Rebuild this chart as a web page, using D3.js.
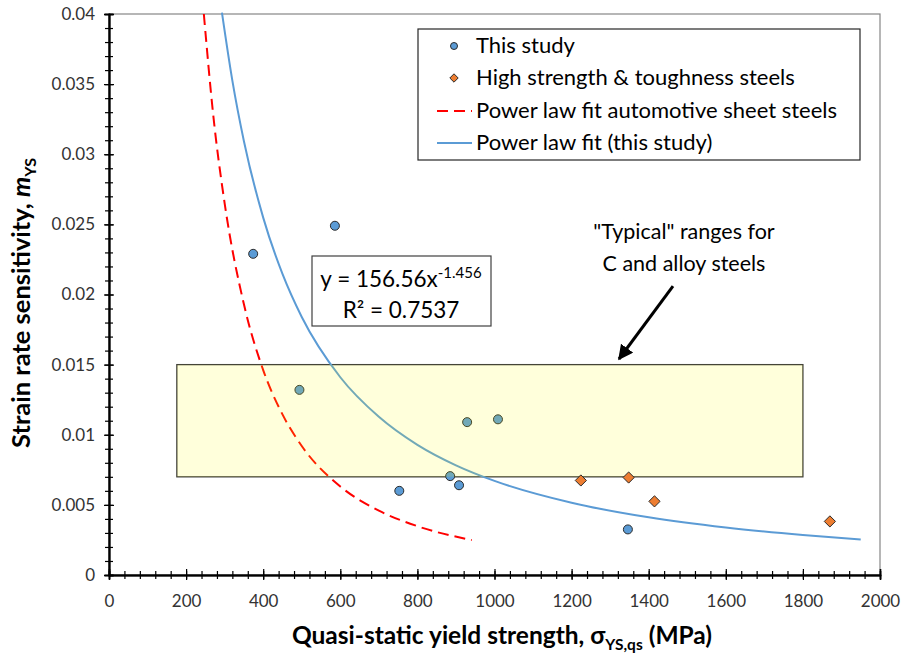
<!DOCTYPE html>
<html>
<head>
<meta charset="utf-8">
<script src="https://cdn.jsdelivr.net/npm/d3@7"></script>
<style>
  body { margin: 0; background: #fff; }
  text { font-family: Lato, "Open Sans", sans-serif; }
</style>
</head>
<body>
<div class="container"></div>
<script>
// this study (blue circles)
const studyX = [374, 586, 494, 929, 1009, 885, 908, 753, 1346];
const studyY = [0.0229, 0.0249, 0.0132, 0.0109, 0.0111, 0.00705, 0.0064, 0.0060, 0.00325];
// high strength & toughness steels (orange diamonds)
const hstX = [1224, 1348, 1415, 1870];
const hstY = [0.00674, 0.00695, 0.00525, 0.00382];
// power law fit (this study)
const fitX = [293, 320, 350, 400, 450, 500, 600, 700, 800, 900, 1000, 1200, 1400, 1600, 1800, 1950];
const fitY = [0.0401, 0.03525, 0.03093, 0.02548, 0.02147, 0.0184, 0.0141, 0.01128, 0.00928, 0.00782, 0.00671, 0.00515, 0.00411, 0.00338, 0.00285, 0.00253];
// power law fit automotive sheet steels
const autoX = [246, 270, 300, 350, 400, 450, 500, 600, 700, 800, 941];
const autoY = [0.04, 0.0329, 0.0265, 0.0193, 0.01461, 0.01145, 0.0092, 0.00631, 0.00459, 0.00348, 0.00249];
// "typical" range box
const rangeX = [176, 1800];
const rangeY = [0.007, 0.015];

const xTicks = d3.range(0, 2001, 200);
const yTicks = d3.range(0, 0.0401, 0.005);
const legendLabels = ["This study", "High strength & toughness steels", "Power law fit automotive sheet steels", "Power law fit (this study)"];

const w = 903, h = 656;
const pLeft = 109, pRight = 880, pTop = 14, pBottom = 575;

const x = d3.scaleLinear().domain([0, 2000]).range([pLeft, pRight]);
const y = d3.scaleLinear().domain([0, 0.04]).range([pBottom, pTop]);

const svg = d3.select(".container").append("svg")
  .attr("width", w).attr("height", h);

// plot area border
svg.append("rect")
  .attr("x", pLeft).attr("y", pTop)
  .attr("width", pRight - pLeft).attr("height", pBottom - pTop)
  .attr("fill", "none").attr("stroke", "#868686").attr("stroke-width", 1.2);

// range box outline (under the marks)
svg.append("rect")
  .attr("x", x(rangeX[0])).attr("y", y(rangeY[1]))
  .attr("width", x(rangeX[1]) - x(rangeX[0]))
  .attr("height", y(rangeY[0]) - y(rangeY[1]))
  .attr("fill", "none").attr("stroke", "#3a3a3a").attr("stroke-width", 1.3);

// axes
const fmtY = d => d === 0 ? "0" : String(+d.toFixed(3));
const minorX = d3.range(0, 2001, 40);
const minorY = d3.range(0, 0.04001, 0.001);

const gx = svg.append("g").attr("transform", "translate(0," + pBottom + ")");
gx.append("g").call(d3.axisBottom(x).tickValues(minorX).tickSize(4).tickFormat(""));
gx.append("g").call(d3.axisBottom(x).tickValues(minorX).tickSize(-4).tickFormat(""));
gx.append("g").call(d3.axisBottom(x).tickValues(xTicks).tickSize(-6).tickFormat(""));
gx.append("g").attr("class", "lab")
  .call(d3.axisBottom(x).tickValues(xTicks).tickSize(5).tickPadding(15).tickFormat(d3.format("d")));

const gy = svg.append("g").attr("transform", "translate(" + pLeft + ",0)");
gy.append("g").call(d3.axisLeft(y).tickValues(minorY).tickSize(4).tickFormat(""));
gy.append("g").call(d3.axisLeft(y).tickValues(minorY).tickSize(-4).tickFormat(""));
gy.append("g").call(d3.axisLeft(y).tickValues(yTicks).tickSize(-5).tickFormat(""));
gy.append("g").attr("class", "lab")
  .call(d3.axisLeft(y).tickValues(yTicks).tickSize(5).tickPadding(9).tickFormat(fmtY));

svg.selectAll(".domain").attr("stroke", "#000").attr("stroke-width", 1.5);
svg.selectAll(".tick line").attr("stroke", "#000").attr("stroke-width", 1.2);
svg.selectAll(".lab text").attr("font-size", 17).attr("fill", "#333")
  .style("font-family", "Lato, sans-serif");

// curves
const line = d3.line().x(d => x(d[0])).y(d => y(d[1])).curve(d3.curveMonotoneX);

svg.append("path")
  .datum(autoX.map((v, i) => [v, autoY[i]]))
  .attr("d", line).attr("fill", "none")
  .attr("stroke", "#ff0000").attr("stroke-width", 2)
  .attr("stroke-dasharray", "11,6");

svg.append("path")
  .datum(fitX.map((v, i) => [v, fitY[i]]))
  .attr("d", line).attr("fill", "none")
  .attr("stroke", "#5b9bd5").attr("stroke-width", 2);

// points
svg.selectAll(".study").data(studyX).enter().append("circle")
  .attr("cx", d => x(d)).attr("cy", (d, i) => y(studyY[i])).attr("r", 4.5)
  .attr("fill", "#5b9bd5").attr("stroke", "#2b2b2b").attr("stroke-width", 1);

// yellow tint laid over the marks inside the box
svg.append("rect")
  .attr("x", x(rangeX[0])).attr("y", y(rangeY[1]))
  .attr("width", x(rangeX[1]) - x(rangeX[0]))
  .attr("height", y(rangeY[0]) - y(rangeY[1]))
  .attr("fill", "#ffff00").attr("fill-opacity", 0.14);

const diamond = d3.symbol().type(d3.symbolDiamond2).size(80);
svg.selectAll(".hst").data(hstX).enter().append("path")
  .attr("d", diamond)
  .attr("transform", (d, i) => "translate(" + x(d) + "," + y(hstY[i]) + ")")
  .attr("fill", "#ed7d31").attr("stroke", "#2b2b2b").attr("stroke-width", 1);

// equation box
const eq = svg.append("g");
eq.append("rect").attr("x", 312).attr("y", 256).attr("width", 179).attr("height", 70)
  .attr("fill", "#fff").attr("stroke", "#404040").attr("stroke-width", 1.2);
const eq1 = eq.append("text").attr("x", 401).attr("y", 287).attr("text-anchor", "middle")
  .attr("font-size", 22.5).attr("fill", "#000");
eq1.append("tspan").text("y = 156.56x");
eq1.append("tspan").attr("font-size", 15).attr("dy", -9).text("-1.456");
eq.append("text").attr("x", 401).attr("y", 318).attr("text-anchor", "middle")
  .attr("font-size", 22.5).attr("fill", "#000").text("R² = 0.7537");

// annotation
const ann = svg.append("text").attr("text-anchor", "middle").attr("font-size", 21.5).attr("fill", "#000");
ann.append("tspan").attr("x", 684).attr("y", 239).text('"Typical" ranges for');
ann.append("tspan").attr("x", 684).attr("y", 271).text("C and alloy steels");

svg.append("defs").append("marker")
  .attr("id", "arr").attr("viewBox", "0 0 10 10").attr("refX", 9).attr("refY", 5)
  .attr("markerWidth", 5).attr("markerHeight", 5).attr("orient", "auto")
  .append("path").attr("d", "M0,0 L10,5 L0,10 z").attr("fill", "#000");
svg.append("line")
  .attr("x1", x(1463)).attr("y1", y(0.0206))
  .attr("x2", x(1323)).attr("y2", y(0.0154))
  .attr("stroke", "#000").attr("stroke-width", 3).attr("marker-end", "url(#arr)");

// legend
const lg = svg.append("g");
lg.append("rect").attr("x", 418).attr("y", 29).attr("width", 442).attr("height", 131)
  .attr("fill", "#fff").attr("stroke", "#262626").attr("stroke-width", 1.2);
const rowY = [46, 78, 111, 143];
lg.append("circle").attr("cx", 454).attr("cy", rowY[0]).attr("r", 3.5)
  .attr("fill", "#5b9bd5").attr("stroke", "#2b2b2b");
lg.append("path").attr("d", d3.symbol().type(d3.symbolDiamond2).size(45))
  .attr("transform", "translate(454," + rowY[1] + ")")
  .attr("fill", "#ed7d31").attr("stroke", "#2b2b2b");
lg.append("line").attr("x1", 437).attr("x2", 472).attr("y1", rowY[2]).attr("y2", rowY[2])
  .attr("stroke", "#ff0000").attr("stroke-width", 2).attr("stroke-dasharray", "11,6");
lg.append("line").attr("x1", 437).attr("x2", 472).attr("y1", rowY[3]).attr("y2", rowY[3])
  .attr("stroke", "#5b9bd5").attr("stroke-width", 2);
lg.selectAll(".lt").data(legendLabels).enter().append("text")
  .attr("x", 476).attr("y", (d, i) => rowY[i] + 7)
  .attr("font-size", 22).attr("fill", "#000").text(d => d);

// axis titles
const xt = svg.append("text").attr("x", 502).attr("y", 644).attr("text-anchor", "middle")
  .attr("font-size", 24.5).attr("font-weight", "bold").attr("fill", "#000");
xt.append("tspan").text("Quasi-static yield strength, σ");
xt.append("tspan").attr("font-size", 15.5).attr("dy", 6).text("YS,qs");
xt.append("tspan").attr("dy", -6).text(" (MPa)");

const yt = svg.append("text").attr("transform", "translate(30,303) rotate(-90)")
  .attr("text-anchor", "middle").attr("font-size", 25.5).attr("font-weight", "bold").attr("fill", "#000");
yt.append("tspan").text("Strain rate sensitivity, ");
yt.append("tspan").attr("font-style", "italic").text("m");
yt.append("tspan").attr("font-size", 16).attr("dy", 6).text("YS");
</script>
</body>
</html>
